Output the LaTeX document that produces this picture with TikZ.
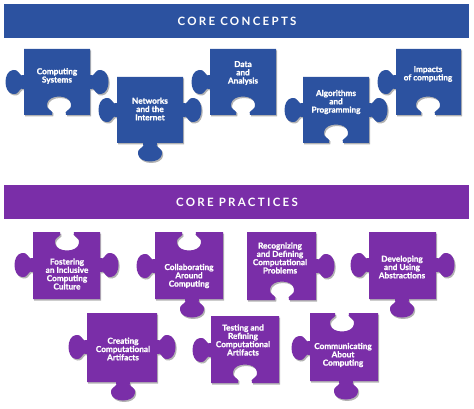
\documentclass[tikz,border=0pt]{standalone}
\usepackage{fontspec}
\setmainfont{Lato}
\newfontfamily\piecefont[BoldFeatures={FakeBold=1.2}]{Lato}
\newfontfamily\bannerfont[LetterSpace=20]{Lato}
\usetikzlibrary{shadows}

\definecolor{concept}{RGB}{44,82,160}
\definecolor{practice}{RGB}{122,46,168}

% one knob on an edge: centre #1,#2; x = #1+#3*u+#4*v, y = #2+#5*u+#6*v
\newcommand\pztab[6]{%
  -- ({#1+(#3)*(-7)},{#2+(#5)*(-7)})
  .. controls ({#1+(#3)*(-4)+(#4)*5},{#2+(#5)*(-4)+(#6)*5})
  and ({#1+(#3)*(-13)+(#4)*4},{#2+(#5)*(-13)+(#6)*4})
  .. ({#1+(#3)*(-12)+(#4)*11},{#2+(#5)*(-12)+(#6)*11})
  .. controls ({#1+(#3)*(-11)+(#4)*21},{#2+(#5)*(-11)+(#6)*21})
  and ({#1+(#3)*11+(#4)*21},{#2+(#5)*11+(#6)*21})
  .. ({#1+(#3)*12+(#4)*11},{#2+(#5)*12+(#6)*11})
  .. controls ({#1+(#3)*13+(#4)*4},{#2+(#5)*13+(#6)*4})
  and ({#1+(#3)*4+(#4)*5},{#2+(#5)*4+(#6)*5})
  .. ({#1+(#3)*7},{#2+(#5)*7})}
% 1 = knob out, -1 = knob in
\newcommand\tabT[3]{\pztab{#1}{#2}{1}{0}{0}{-(#3)}}
\newcommand\tabR[3]{\pztab{#1}{#2}{0}{#3}{1}{0}}
\newcommand\tabB[3]{\pztab{#1}{#2}{-1}{0}{0}{#3}}
\newcommand\tabL[3]{\pztab{#1}{#2}{0}{-(#3)}{-1}{0}}

\begin{document}
\begin{tikzpicture}[x=1pt,y=-1pt,
    pz/.style={drop shadow={shadow xshift=1.2pt,shadow yshift=-1.5pt,opacity=.3,fill=black}},
    pztext/.style={text=white,align=center,inner sep=0pt,
      font=\piecefont\bfseries\fontsize{8.2}{8.3}\selectfont},
    bannertext/.style={text=white,font=\bannerfont\bfseries\fontsize{11.5}{12}\selectfont}]
    \useasboundingbox (0,0) rectangle (474,409);

    % core concepts
    \fill[concept] (4,4) rectangle (469,38);
    \node[bannertext] (concepts) at (237,21) {CORE CONCEPTS};

    \fill[concept,pz]
      (24,49) -- (90,49) \tabR{90}{82}{1} -- (90,115) \tabB{59}{115}{-1} -- (24,115) \tabL{24}{82}{1} -- cycle;
    \fill[concept,pz]
      (117,77) -- (183,77) \tabR{183}{110}{1} -- (183,143) \tabB{150}{143}{1} -- (117,143) \tabL{117}{110}{1} -- cycle;
    \fill[concept,pz]
      (210,49) -- (276,49) -- (276,115) \tabB{243}{115}{-1} -- (210,115) \tabL{210}{82}{1} -- cycle;
    \fill[concept,pz]
      (303,77) -- (369,77) \tabR{369}{110}{1} -- (369,143) \tabB{336}{143}{-1} -- (303,143) \tabL{303}{110}{1} -- cycle;
    \fill[concept,pz]
      (396,49) -- (461,49) -- (461,115) \tabB{428}{115}{-1} -- (396,115) \tabL{396}{82}{1} -- cycle;

    \node[pztext] (systems) at (57,76) {Computing\\Systems};
    \node[pztext] (networks) at (150,109) {Networks\\and the\\Internet};
    \node[pztext] (data) at (243,73) {Data\\and\\Analysis};
    \node[pztext] (algorithms) at (336,102) {Algorithms\\and\\Programming};
    \node[pztext] (impacts) at (428,74) {Impacts\\of computing};

    % core practices
    \fill[practice] (4,185) rectangle (469,219);
    \node[bannertext] (practices) at (237,202) {CORE PRACTICES};

    \fill[practice,pz]
      (33,232) \tabT{67}{232}{-1} -- (100,232) \tabR{100}{265}{1} -- (100,299) -- (33,299) \tabL{33}{265}{1} -- cycle;
    \fill[practice,pz]
      (155,232) \tabT{189}{232}{-1} -- (223,232) -- (223,299) \tabB{192}{299}{1} -- (155,299) \tabL{155}{266}{1} -- cycle;
    \fill[practice,pz]
      (247,232) -- (316,232) \tabR{316}{266}{1} -- (316,300) \tabB{282}{300}{-1} -- (247,300) -- cycle;
    \fill[practice,pz]
      (369,232) -- (436,232) \tabR{436}{265}{1} -- (436,299) \tabB{402}{299}{1} -- (369,299) \tabL{369}{265}{1} -- cycle;
    \fill[practice,pz]
      (87,313) -- (157,313) \tabR{157}{347}{1} -- (157,382) \tabB{123}{382}{1} -- (87,382) \tabL{87}{347}{1} -- cycle;
    \fill[practice,pz]
      (211,316) -- (279,316) -- (279,383) \tabB{245}{383}{-1} -- (211,383) \tabL{211}{350}{1} -- cycle;
    \fill[practice,pz]
      (310,313) \tabT{342}{313}{-1} -- (378,313) -- (378,381) \tabB{346}{381}{1} -- (310,381) \tabL{310}{348}{1} -- cycle;

    \node[pztext] (fostering) at (67,274) {Fostering\\an Inclusive\\Computing\\Culture};
    \node[pztext] (collaborating) at (189,276) {Collaborating\\Around\\Computing};
    \node[pztext] (recognizing) at (280,258) {Recognizing\\and Defining\\Computational\\Problems};
    \node[pztext] (developing) at (402,267) {Developing\\and Using\\Abstractions};
    \node[pztext] (creating) at (123,349) {Creating\\Computational\\Artifacts};
    \node[pztext] (testing) at (243,340) {Testing and\\Refining\\Computational\\Artifacts};
    \node[pztext] (communicating) at (343,355) {Communicating\\About\\Computing};
\end{tikzpicture}
\end{document}
